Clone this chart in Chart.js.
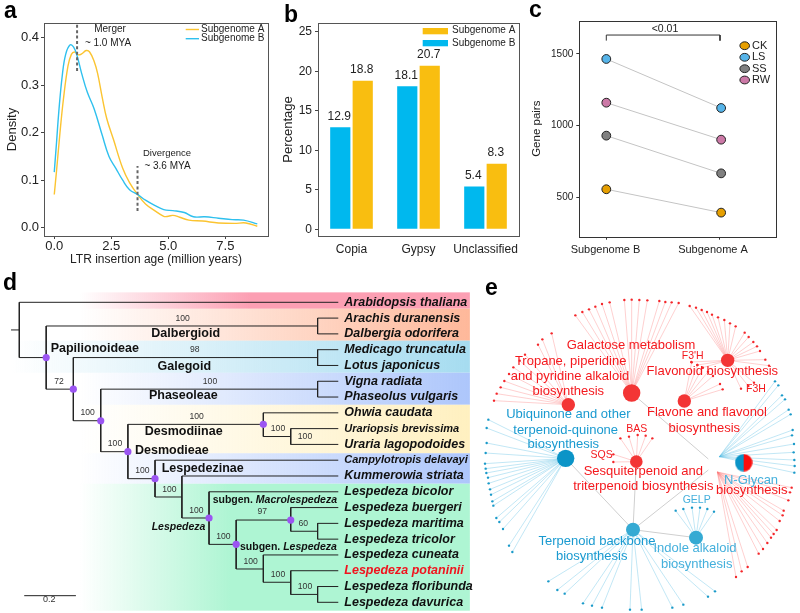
<!DOCTYPE html>
<html>
<head>
<meta charset="utf-8">
<title>Lespedeza genome figure</title>
<script src="https://cdn.jsdelivr.net/npm/chart.js@4"></script>
<style>
html,body{margin:0;padding:0;background:#fff;}
#fig{position:relative;width:800px;height:613px;overflow:hidden;}
canvas{position:absolute;}
</style>
</head>
<body>
<div id="fig">
<canvas id="chartA" width="280" height="270" style="left:0;top:0"></canvas>
<canvas id="chartB" width="245" height="270" style="left:280px;top:0"></canvas>
<canvas id="chartC" width="275" height="270" style="left:525px;top:0"></canvas>
<canvas id="chartD" width="480" height="343" style="left:0;top:270px"></canvas>
<canvas id="chartE" width="320" height="343" style="left:480px;top:270px"></canvas>
</div>
<script>
/* PANEL A DATA */
const ageA=[0,0.1,0.25,0.4,0.6,0.75,0.9,1.05,1.2,1.4,1.55,1.75,1.9,2.1,2.3,2.6,3.0,3.3,3.65,4.0,4.4,4.8,5.0,5.2,5.5,5.9,6.5,7.2,7.9,8.4,8.9];
const densityA=[0.07,0.12,0.2,0.27,0.34,0.365,0.37,0.364,0.366,0.373,0.37,0.35,0.325,0.275,0.23,0.185,0.125,0.095,0.07,0.05,0.036,0.024,0.024,0.026,0.022,0.016,0.014,0.01,0.009,0.01,0.003];
const ageB=[0,0.1,0.2,0.35,0.5,0.7,0.85,1.0,1.2,1.45,1.75,2.1,2.4,2.7,3.0,3.3,3.65,4.0,4.4,4.8,5.2,5.7,6.1,6.6,7.2,7.8,8.3,8.9];
const densityB=[0.117,0.18,0.245,0.32,0.365,0.385,0.38,0.362,0.325,0.285,0.25,0.195,0.15,0.125,0.1,0.08,0.07,0.058,0.047,0.038,0.036,0.032,0.023,0.023,0.02,0.017,0.016,0.008];
const mergerAge=[1.0,1.0];
const mergerSpan=[0.33,0.43];
const divergenceAge=[3.65,3.65];
const divergenceSpan=[0.035,0.13];
const ageTicks=[0,2.5,5,7.5];
const densityTicks=[0,0.1,0.2,0.3,0.4];

/* PANEL B DATA */
const families=['Copia','Gypsy','Unclassified'];
const percentB=[12.9,18.1,5.4];
const percentA=[18.8,20.7,8.3];
const percentTicks=[0,5,10,15,20,25];

/* PANEL C DATA */
const genomes=['Subgenome B','Subgenome A'];
const genomeX=[0,1.01];
const pairsCK=[556,393];
const pairsLS=[1465,1123];
const pairsSS=[930,667];
const pairsRW=[1160,902];
const pairTicks=[500,1000,1500];

/* PANEL D DATA: x is branch length, y is tip row */
const tipNames=['Arabidopsis thaliana','Arachis duranensis','Dalbergia odorifera','Medicago truncatula','Lotus japonicus','Vigna radiata','Phaseolus vulgaris','Ohwia caudata','Urariopsis brevissima','Uraria lagopodoides','Campylotropis delavayi','Kummerowia striata','Lespedeza bicolor','Lespedeza buergeri','Lespedeza maritima','Lespedeza tricolor','Lespedeza cuneata','Lespedeza potaninii','Lespedeza floribunda','Lespedeza davurica'];
// [row, from, to]
const treeFlat=[[0,0,1.234],[1.75,-0.032,0],[3.5,0,0.104],[1.5,0.104,1.154],[5.5,0.104,0.209],[3.5,0.209,1.154],[7.5,0.209,0.315],[5.5,0.315,1.154],[9.46,0.315,0.42],[7.73,0.42,0.944],[11.17,0.42,0.525],[10,0.525,1.234],[12.33,0.525,0.629],[11,0.629,1.234],[13.66,0.629,0.734],[12,0.734,1.234],[15.33,0.734,0.839],[13.79,0.839,1.05],[16.89,0.839,0.944],[13,1.05,1.234],[14.5,1.05,1.154],[14,1.154,1.234],[15,1.154,1.234],[16,0.944,1.234],[17.73,0.944,1.05],[17,1.05,1.234],[18.5,1.05,1.154],[18,1.154,1.234],[19,1.154,1.234],[1,1.154,1.234],[2,1.154,1.234],[3,1.154,1.234],[4,1.154,1.234],[5,1.154,1.234],[6,1.154,1.234],[7,0.944,1.234],[8.5,0.944,1.05],[8,1.05,1.234],[9,1.05,1.234]];
// [depth, from row, to row]
const treeStem=[[0,0,3.5],[0.104,1.5,5.5],[0.209,3.5,7.5],[0.315,5.5,9.46],[0.42,7.73,11.17],[0.525,10,12.33],[0.629,11,13.66],[0.734,12,15.33],[0.839,13.79,16.89],[1.05,13,14.5],[1.154,14,15],[0.944,7,8.5],[1.05,8,9],[0.944,16,17.73],[1.05,17,18.5],[1.154,18,19],[1.154,1,2],[1.154,3,4],[1.154,5,6]];
const nodeDepth=[0.104,0.209,0.315,0.42,0.525,0.734,0.839,1.05,0.944];
const nodeRow=[3.5,5.5,7.5,9.46,11.17,13.66,15.33,13.79,7.73];
const scaleDepth=[0.019,0.219];
const scaleRow=[18.58,18.58];

/* PANEL E DATA: network layout coordinates */
const hubGalactose=[455,369],hubFlavonoid=[743,271],hubFlavone=[613,393],hubTropane=[265,404];
const hubUbiquinone=[257,565],hubSesqui=[469,575],hubTerpenoid=[459,779],hubIndole=[648,803];
const hubGlycan=[791,578],glycanBlueFan=[718,560],glycanRedFan=[712,606];
const leavesGalactose=[[286,136],[307,126],[327,118],[346,110],[366,102],[389,97],[433,90],[455,89],[478,90],[502,91],[538,93],[556,96],[575,97],[596,99]];
const leavesTropane=[[215,190],[187,208],[174,224],[135,254],[119,272],[100,292],[87,312],[73,333],[62,352],[50,371],[42,392]];
const leavesFlavonoid=[[629,108],[648,113],[665,120],[681,126],[696,134],[714,142],[733,150],[750,160],[767,169],[794,188],[806,201],[820,216],[831,229],[840,243],[856,269],[867,287],[822,338],[783,356],[805,348],[634,276],[652,285],[668,293]];
const leavesFlavone=[[635,277],[652,285],[668,293],[684,305],[699,318],[720,342],[728,358]];
const leavesSesqui=[[421,505],[447,500],[473,495],[497,497],[517,505],[400,553],[400,576]];
const leavesGlycanRed=[[935,653],[930,667],[925,691],[911,722],[908,736],[899,753],[890,780],[881,792],[873,803],[862,819],[849,837],[836,851],[803,891],[785,904],[768,921]];
const leavesUbiquinone=[[25,449],[20,474],[20,519],[17,549],[15,581],[17,596],[19,609],[24,623],[26,640],[30,658],[33,674],[37,694],[40,707],[49,744],[58,756],[69,777],[87,827],[97,846]];
const leavesGlycanBlue=[[885,334],[895,346],[906,376],[915,388],[926,419],[932,433],[938,480],[936,496],[942,522],[941,547],[943,570],[944,588],[943,608]];
const leavesTerpenoid=[[205,934],[232,960],[254,971],[309,1000],[336,1007],[366,1013],[450,1019],[485,1019],[577,1013],[610,1004],[684,980],[705,964]];
const leavesIndole=[[587,722],[610,717],[636,713],[660,713],[682,717],[702,725]];
const hubLinks=[[hubGalactose,[685,567]],[hubUbiquinone,hubTerpenoid],[hubSesqui,hubTerpenoid],[hubTerpenoid,[685,600]],[hubTerpenoid,hubIndole]];

/* HELPERS */
const FONT='"Liberation Sans", Arial, sans-serif';
Chart.defaults.font.family=FONT;
Chart.defaults.color='#222';
Chart.defaults.animation=false;
Chart.defaults.plugins.legend.display=false;
Chart.defaults.plugins.tooltip.enabled=false;
Chart.defaults.layout.autoPadding=false;

const RED='#f4191e',BLUE='#1a9ad0',SKY='#45b0dc',CYAN='#00b8ee',GOLD='#f9be10';

function xy(xs,ys){return xs.map((x,i)=>({x:x,y:ys[i]}));}
function tickList(vals){return s=>{s.ticks=vals.map(v=>({value:v}));};}

function put(ctx,t,x,y,font,color,align,angle){
  ctx.save();
  ctx.font=font;
  ctx.fillStyle=color||'#222';
  ctx.textAlign=align||'center';
  ctx.textBaseline='middle';
  ctx.translate(x,y);
  if(angle){ctx.rotate(angle);}
  ctx.fillText(t,0,0);
  ctx.restore();
}

function letter(ctx,t,x,y){
  ctx.save();
  ctx.font='bold 23px '+FONT;
  ctx.fillStyle='#000';
  ctx.textAlign='left';
  ctx.textBaseline='alphabetic';
  ctx.fillText(t,x,y);
  ctx.restore();
}

function frame(chart,color){
  const a=chart.chartArea,ctx=chart.ctx;
  ctx.save();
  ctx.strokeStyle=color;
  ctx.lineWidth=1;
  ctx.strokeRect(Math.round(a.left)+0.5,Math.round(a.top)+0.5,Math.round(a.right-a.left),Math.round(a.bottom-a.top));
  ctx.restore();
}

function axisTicks(color,len){
  return {display:true,drawOnChartArea:false,drawTicks:true,tickColor:color,tickLength:len,tickWidth:1};
}

/* PANEL A */
new Chart(document.getElementById('chartA'),{
  type:'scatter',
  data:{datasets:[
    {data:xy(mergerAge,mergerSpan),showLine:true,borderColor:'#666',borderWidth:2,borderDash:[3,2.4],pointRadius:0,order:0},
    {data:xy(divergenceAge,divergenceSpan),showLine:true,borderColor:'#666',borderWidth:2,borderDash:[3,2.4],pointRadius:0,order:0},
    {label:'Subgenome B',data:xy(ageB,densityB),showLine:true,borderColor:'#2fc0ee',borderWidth:1.4,tension:0.4,pointRadius:0,order:1},
    {label:'Subgenome A',data:xy(ageA,densityA),showLine:true,borderColor:'#fbc431',borderWidth:1.4,tension:0.4,pointRadius:0,order:2}
  ]},
  options:{
    responsive:false,
    layout:{padding:{top:23,right:12}},
    scales:{
      x:{type:'linear',min:-0.45,max:9.37,afterBuildTicks:tickList(ageTicks),afterFit:s=>{s.height=34;},
        border:{display:false},grid:axisTicks('#444',3),
        ticks:{padding:0,maxRotation:0,autoSkip:false,font:{size:13},callback:v=>v.toFixed(1)},
        title:{display:true,text:'LTR insertion age (million years)',font:{size:12},padding:{top:0,bottom:3}}},
      y:{min:-0.0175,max:0.431,afterBuildTicks:tickList(densityTicks),afterFit:s=>{s.width=44;},
        border:{display:false},grid:axisTicks('#444',3),
        ticks:{padding:2,autoSkip:false,font:{size:13},callback:v=>v.toFixed(1)},
        title:{display:true,text:'Density',font:{size:13},padding:{top:5,bottom:0}}}
    }
  },
  plugins:[{id:'panelA',afterDraw(c){
    const ctx=c.ctx;
    frame(c,'#555');
    letter(ctx,'a',4,18);
    put(ctx,'Merger',110,29.5,'10px '+FONT);
    put(ctx,'~ 1.0 MYA',108,43,'10px '+FONT);
    put(ctx,'Divergence',167,153.5,'9.5px '+FONT);
    put(ctx,'~ 3.6 MYA',167.5,166,'10px '+FONT);
    [['Subgenome A','#fbc431',29.5],['Subgenome B','#2fc0ee',38.7]].forEach(l=>{
      ctx.strokeStyle=l[1];ctx.lineWidth=1.4;
      ctx.beginPath();ctx.moveTo(185.7,l[2]);ctx.lineTo(199,l[2]);ctx.stroke();
      put(ctx,l[0],201,l[2],'10px '+FONT,'#222','left');
    });
  }}]
});

/* PANEL B */
new Chart(document.getElementById('chartB'),{
  type:'bar',
  data:{labels:families,datasets:[
    {label:'Subgenome B',data:percentB,backgroundColor:CYAN,categoryPercentage:0.67,barPercentage:0.9},
    {label:'Subgenome A',data:percentA,backgroundColor:GOLD,categoryPercentage:0.67,barPercentage:0.9}
  ]},
  options:{
    responsive:false,
    layout:{padding:{top:23,right:6}},
    scales:{
      x:{afterFit:s=>{s.height=34;},border:{display:false},grid:{display:false,drawTicks:false},
        ticks:{padding:6,maxRotation:0,autoSkip:false,font:{size:12}}},
      y:{min:-0.85,max:26.1,afterBuildTicks:tickList(percentTicks),afterFit:s=>{s.width=38;},
        border:{display:false},grid:axisTicks('#444',3),
        ticks:{padding:3,autoSkip:false,font:{size:12}},
        title:{display:true,text:'Percentage',font:{size:13},padding:{top:1,bottom:0}}}
    }
  },
  plugins:[{id:'panelB',afterDraw(c){
    const ctx=c.ctx;
    frame(c,'#555');
    letter(ctx,'b',4,22);
    c.data.datasets.forEach((ds,d)=>{
      c.getDatasetMeta(d).data.forEach((bar,i)=>{
        put(ctx,ds.data[i].toFixed(1),bar.x-1,bar.y-11,'12px '+FONT);
      });
    });
    [['Subgenome A',GOLD,28,30.7],['Subgenome B',CYAN,40,43]].forEach(l=>{
      ctx.fillStyle=l[1];
      ctx.fillRect(142.7,l[2],25.3,6.3);
      put(ctx,l[0],172,l[3],'10px '+FONT,'#222','left');
    });
  }}]
});

/* PANEL C */
const pairColors={CK:'#e69f00',LS:'#56b4e9',SS:'#808080',RW:'#cc79a7'};
function pairSet(vals,color){
  return {data:xy(genomeX,vals),showLine:true,borderColor:'#c4c4c4',borderWidth:1,
    pointRadius:4.4,pointBackgroundColor:color,pointBorderColor:'#222',pointBorderWidth:1};
}
new Chart(document.getElementById('chartC'),{
  type:'scatter',
  data:{datasets:[
    pairSet(pairsCK,pairColors.CK),pairSet(pairsLS,pairColors.LS),
    pairSet(pairsSS,pairColors.SS),pairSet(pairsRW,pairColors.RW),
    {data:[{x:0,y:1593},{x:0,y:1632},{x:1,y:1632},{x:1,y:1593}],showLine:true,borderColor:'#333',borderWidth:1,pointRadius:0}
  ]},
  options:{
    responsive:false,
    layout:{padding:{top:20.7,right:23.3}},
    scales:{
      x:{type:'linear',min:-0.2375,max:1.4987,afterBuildTicks:tickList([0,1]),afterFit:s=>{s.height=33.3;},
        border:{display:false},grid:axisTicks('#333',3),ticks:{display:false}},
      y:{min:225,max:1732,afterBuildTicks:tickList(pairTicks),afterFit:s=>{s.width=54.3;},
        border:{display:false},grid:axisTicks('#333',3),
        ticks:{padding:3,autoSkip:false,font:{size:10},callback:v=>String(v)},
        title:{display:true,text:'Gene pairs',font:{size:11.5},padding:{top:5,bottom:0}}}
    }
  },
  plugins:[{id:'panelC',afterDraw(c){
    const ctx=c.ctx;
    frame(c,'#333');
    letter(ctx,'c',4,17);
    put(ctx,genomes[0],80.5,250,'11px '+FONT);
    put(ctx,genomes[1],188,250,'11px '+FONT);
    put(ctx,'<0.01',140,29,'10.5px '+FONT);
    [['CK',45.7],['LS',57.3],['SS',68.7],['RW',80]].forEach(l=>{
      ctx.beginPath();ctx.ellipse(219.7,l[1],4.8,3.9,0,0,Math.PI*2);
      ctx.fillStyle=pairColors[l[0]];ctx.fill();
      ctx.strokeStyle='#222';ctx.lineWidth=1;ctx.stroke();
      put(ctx,l[0],227,l[1],'11px '+FONT,'#222','left');
    });
  }}]
});

/* PANEL D */
function treeLine(){
  const pts=[];
  treeFlat.forEach(e=>{pts.push({x:e[1],y:e[0]},{x:e[2],y:e[0]},{x:e[2],y:null});});
  treeStem.forEach(e=>{pts.push({x:e[0],y:e[1]},{x:e[0],y:e[2]},{x:e[0],y:null});});
  return pts;
}
// band extent in rows, colour, depth where the colour is full, depth where the fade begins
const bands=[
  [-0.63,0.405,'252,159,179',0.892,0.235],
  [0.405,2.43,'254,184,154',1.743,0.235],
  [2.43,4.46,'166,220,240',1.743,-0.036],
  [4.46,6.49,'173,198,251',1.743,0.235],
  [6.49,9.56,'255,240,192',1.743,0.235],
  [9.56,11.49,'173,198,251',1.743,0.235],
  [11.49,19.53,'174,245,211',0.815,0.235]
];
const supportLabels=[['100',182.7,48.3],['98',194.7,80],['72',59,111.7],['100',210,111.7],['100',87.7,142.7],['100',196.7,147],['100',115,174],['100',142.3,201],['100',169.3,219.3],['100',196.3,240.3],['100',223.3,266.7],['100',278,159],['100',305,166.7],['97',262.3,241.7],['60',303.3,254],['100',250.7,291.3],['100',278,305],['100',305,316.7]];
const cladeLabels=[['Dalbergioid',185.7,63.3,'center'],['Papilionoideae',50.7,78.3,'left'],['Galegoid',184.3,96.3,'center'],['Phaseoleae',183.3,126,'center'],['Desmodiinae',183.7,161.3,'center'],['Desmodieae',135,180.7,'left'],['Lespedezinae',161.7,198.3,'left']];

new Chart(document.getElementById('chartD'),{
  type:'scatter',
  data:{datasets:[
    {data:xy(nodeDepth,nodeRow),pointRadius:3.6,pointBackgroundColor:'#9b55f2',pointBorderWidth:0},
    {data:treeLine(),showLine:true,borderColor:'#222',borderWidth:1,pointRadius:0},
    {data:xy(scaleDepth,scaleRow),showLine:true,borderColor:'#222',borderWidth:1,pointRadius:0}
  ]},
  options:{
    responsive:false,
    scales:{
      x:{display:false,type:'linear',min:-0.0747,max:1.7822},
      y:{display:false,reverse:true,min:-2.046,max:19.677}
    }
  },
  plugins:[{id:'panelD',
    beforeDatasetsDraw(c){
      const ctx=c.ctx,sx=c.scales.x,sy=c.scales.y;
      const right=sx.getPixelForValue(1.743);
      bands.forEach(b=>{
        const x0=sx.getPixelForValue(b[4]),x1=sx.getPixelForValue(b[3]);
        const g=ctx.createLinearGradient(x0,0,x1,0);
        g.addColorStop(0,'rgba('+b[2]+',0)');
        g.addColorStop(1,'rgba('+b[2]+',1)');
        ctx.fillStyle=g;
        const y0=sy.getPixelForValue(b[0]),y1=sy.getPixelForValue(b[1]);
        ctx.fillRect(x0,y0,right-x0,y1-y0);
      });
    },
    afterDraw(c){
      const ctx=c.ctx,sx=c.scales.x,sy=c.scales.y;
      letter(ctx,'d',3,20);
      const tipX=sx.getPixelForValue(1.234)+6;
      tipNames.forEach((n,i)=>{
        const small=(i===8||i===10);
        put(ctx,n,tipX,sy.getPixelForValue(i),'italic bold '+(small?11:12.5)+'px '+FONT,i===17?'#f0141e':'#111','left');
      });
      supportLabels.forEach(l=>put(ctx,l[0],l[1],l[2],'8.6px '+FONT,'#333'));
      cladeLabels.forEach(l=>put(ctx,l[0],l[1],l[2],'bold 12.5px '+FONT,'#111',l[3]));
      put(ctx,'Lespedeza',151.7,257,'italic bold 10.5px '+FONT,'#111','left');
      [['subgen. ','Macrolespedeza',212.7,230],['subgen. ','Lespedeza',240,277.3]].forEach(l=>{
        ctx.font='bold 10.5px '+FONT;
        const w=ctx.measureText(l[0]).width;
        put(ctx,l[0],l[2],l[3],'bold 10.5px '+FONT,'#111','left');
        put(ctx,l[1],l[2]+w,l[3],'italic bold 10.5px '+FONT,'#111','left');
      });
      put(ctx,'0.2',49.3,329.7,'9px '+FONT,'#333');
    }
  }]
});

/* PANEL E */
function fanLine(hub,leaves){
  const pts=[];
  leaves.forEach(l=>{pts.push({x:hub[0],y:hub[1]},{x:l[0],y:l[1]},{x:l[0],y:null});});
  return pts;
}
function fanSets(hub,leaves,lineColor,dotColor){
  return [
    {data:leaves.map(l=>({x:l[0],y:l[1]})),pointRadius:1.2,pointBackgroundColor:dotColor,pointBorderWidth:0,order:3},
    {data:fanLine(hub,leaves),showLine:true,borderColor:lineColor,borderWidth:0.7,pointRadius:0,order:5}
  ];
}
function hubSet(hub,r,color){
  return {data:[{x:hub[0],y:hub[1]}],pointRadius:r,pointBackgroundColor:color,pointBorderWidth:0,order:1};
}
// half blue, half red N-Glycan node
const pieDot=document.createElement('canvas');
pieDot.width=18;pieDot.height=18;
(function(){
  const p=pieDot.getContext('2d');
  p.fillStyle='#0b94c7';p.beginPath();p.arc(9,9,8.7,Math.PI/2,Math.PI*1.5);p.fill();
  p.fillStyle='#fb0d0d';p.beginPath();p.arc(9,9,8.7,-Math.PI/2,Math.PI/2);p.fill();
})();

const pinkLine='rgba(252,120,120,0.5)',paleBlue='rgba(80,185,225,0.5)';
const redDot='#f4262a',blueDot='#1a9ac9';
const linkPts=[];
hubLinks.forEach(l=>{linkPts.push({x:l[0][0],y:l[0][1]},{x:l[1][0],y:l[1][1]},{x:l[1][0],y:null});});

const netLabels=[
  ['Galactose metabolism',453,226,13,RED],['Tropane, piperidine',272,274,13,RED],['and pyridine alkaloid',270,320,13,RED],['biosynthesis',265,365,13,RED],
  ["F3'H",638,257,10.5,RED],['Flavonoid biosynthesis',697,304,13,RED],['F3H',828,357,10.5,RED],
  ['Flavone and flavonol',681,428,13,RED],['biosynthesis',673,474,13,RED],
  ['Ubiquinone and other',265,434,13,BLUE],['terpenoid-quinone',257,480,13,BLUE],['biosynthesis',250,523,13,BLUE],
  ['BAS',470,476,10.5,RED],['SQS',365,556,10.5,RED],
  ['Sesquiterpenoid and',490,605,13,RED],['triterpenoid biosynthesis',490,650,13,RED],
  ['N-Glycan',813,631,13,SKY],['biosynthesis',815,660,13,RED],['GELP',650,690,10.5,SKY],
  ['Terpenoid backbone',351,813,13,BLUE],['biosynthesis',335,859,13,BLUE],
  ['Indole alkaloid',645,836,13,SKY],['biosynthesis',650,882,13,SKY]
];

new Chart(document.getElementById('chartE'),{
  type:'scatter',
  data:{datasets:[
    hubSet(hubGalactose,8.7,'#f33535'),hubSet(hubFlavonoid,6.7,'#f33535'),hubSet(hubFlavone,6.7,'#f33535'),hubSet(hubTropane,6.7,'#f33535'),hubSet(hubSesqui,6.3,'#f33535'),
    hubSet(hubUbiquinone,8.7,'#0b94c7'),hubSet(hubTerpenoid,7,'#35aad3'),hubSet(hubIndole,7,'#35aad3'),
    {data:[{x:hubGlycan[0],y:hubGlycan[1]}],pointStyle:pieDot,order:1},
    {data:linkPts,showLine:true,borderColor:'#cfcfcf',borderWidth:1,pointRadius:0,order:4},
    ...fanSets(hubGalactose,leavesGalactose,pinkLine,redDot),
    ...fanSets(hubTropane,leavesTropane,pinkLine,redDot),
    ...fanSets(hubFlavonoid,leavesFlavonoid,pinkLine,redDot),
    ...fanSets(hubFlavone,leavesFlavone,pinkLine,redDot),
    ...fanSets(hubSesqui,leavesSesqui,pinkLine,redDot),
    ...fanSets(glycanRedFan,leavesGlycanRed,pinkLine,redDot),
    ...fanSets(hubUbiquinone,leavesUbiquinone,paleBlue,blueDot),
    ...fanSets(glycanBlueFan,leavesGlycanBlue,paleBlue,blueDot),
    ...fanSets(hubTerpenoid,leavesTerpenoid,paleBlue,blueDot),
    ...fanSets(hubIndole,leavesIndole,paleBlue,blueDot)
  ]},
  options:{
    responsive:false,
    scales:{
      x:{display:false,type:'linear',min:0,max:960},
      y:{display:false,reverse:true,min:0,max:1029}
    }
  },
  plugins:[{id:'panelE',afterDraw(c){
    const ctx=c.ctx,sx=c.scales.x,sy=c.scales.y;
    letter(ctx,'e',5,25);
    netLabels.forEach(l=>put(ctx,l[0],sx.getPixelForValue(l[1]),sy.getPixelForValue(l[2]),l[3]+'px '+FONT,l[4]));
  }}]
});
</script>
</body>
</html>
